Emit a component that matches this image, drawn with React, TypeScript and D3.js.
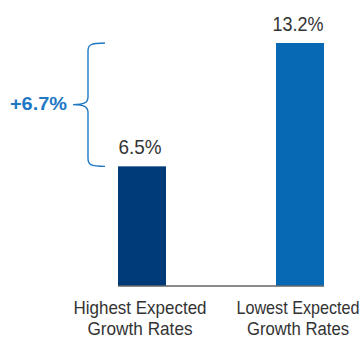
import React, { useLayoutEffect, useRef, useState } from "react";
import * as d3 from "d3";

const categories = ["Highest Expected|Growth Rates", "Lowest Expected|Growth Rates"];
const values = [6.5, 13.2];
const valueLabels = ["6.5%", "13.2%"];
const diffLabel = "+6.7%";
const colors = ["#003b79", "#0769b4"];

const catLineWidths = [[133, 105], [123, 102]];
const valueWidths = [43, 51];

const FONT = "'Liberation Sans', Arial, sans-serif";

function FitText(props: {
  x: number; y: number; width: number; anchor: "start" | "middle" | "end";
  size: number; fill: string; weight?: string; children: string;
}) {
  const ref = useRef<SVGTextElement>(null);
  const [k, setK] = useState(0.88);
  useLayoutEffect(() => {
    if (ref.current) {
      const w = ref.current.getComputedTextLength();
      if (w > 0) setK(props.width / w);
    }
  }, [props.width, props.children]);
  return (
    <g transform={`translate(${props.x},${props.y}) scale(${k},1)`}>
      <text ref={ref} x={0} y={0} textAnchor={props.anchor} fontFamily={FONT}
        fontSize={props.size} fontWeight={props.weight || "normal"} fill={props.fill}>
        {props.children}
      </text>
    </g>
  );
}

export default function App() {
  const W = 364, H = 339;
  const x = d3.scalePoint<string>().domain(categories).range([142, 300]);
  const y = d3.scaleLinear().domain([0, d3.max(values) as number]).range([286, 43]);
  const bw = 48;
  const yTop = y(values[1]);
  const yBot = y(values[0]);
  const mid = (yTop + yBot) / 2;
  const bx = 88, tip = 73, ex = 105, r = 8;
  const brace = `M${ex},${yTop} C${bx + 2},${yTop} ${bx},${yTop + 2} ${bx},${yTop + r}
    L${bx},${mid - r} C${bx},${mid - 2} ${bx - 4},${mid} ${tip},${mid}
    C${bx - 4},${mid} ${bx},${mid + 2} ${bx},${mid + r}
    L${bx},${yBot - r} C${bx},${yBot - 2} ${bx + 2},${yBot} ${ex},${yBot}`;
  return (
    <svg width={W} height={H} style={{ position: "absolute", left: 0, top: 0 }}>
      <rect width={W} height={H} fill="#fff" />
      {categories.map((c, i) => (
        <rect key={c} x={(x(c) as number) - bw / 2} y={y(values[i])} width={bw}
          height={y(0) - y(values[i])} fill={colors[i]} />
      ))}
      <line x1={(x(categories[0]) as number) - bw / 2} x2={(x(categories[1]) as number) + bw / 2}
        y1={y(0)} y2={y(0)} stroke="#666" strokeWidth={1.5} />
      {categories.map((c, i) => (
        <FitText key={"v" + c} x={(x(c) as number) - 2} y={y(values[i]) - 12} anchor="middle"
          size={20} fill="#333" width={valueWidths[i]}>{valueLabels[i]}</FitText>
      ))}
      {categories.map((c, i) =>
        c.split("|").map((l, j) => (
          <FitText key={"c" + c + j} x={(x(c) as number) - 2} y={314 + j * 21} anchor="middle"
            size={18} fill="#333" width={catLineWidths[i][j]}>{l}</FitText>
        ))
      )}
      <path d={brace} fill="none" stroke="#1f78c4" strokeWidth={1.4} />
      <FitText x={67} y={110} anchor="end" size={18} weight="bold" fill="#1f78c4" width={57}>
        {diffLabel}
      </FitText>
    </svg>
  );
}
